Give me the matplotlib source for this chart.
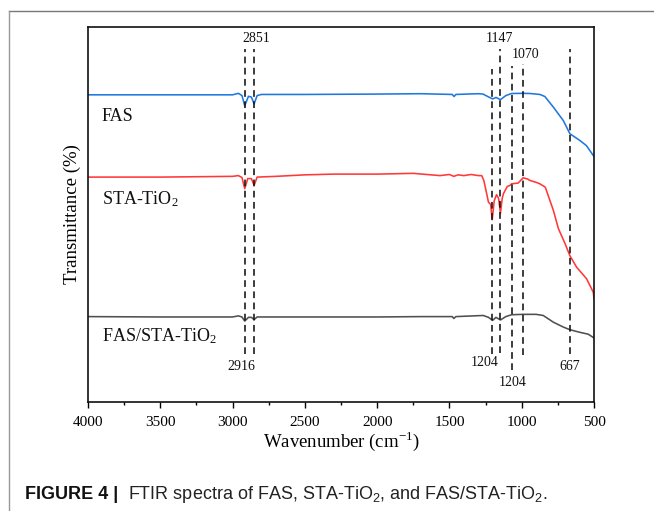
import matplotlib
matplotlib.use("Agg")
import matplotlib.pyplot as plt
from matplotlib.lines import Line2D
from matplotlib.ticker import MultipleLocator

# ---------------- data ----------------
fas_wn = [4000, 3500, 3000, 2960, 2935, 2916, 2890, 2870, 2851, 2830, 2800, 2500, 2000, 1700,
          1480, 1468, 1455, 1300, 1268, 1235, 1201, 1178, 1147, 1110, 1070, 992, 943, 874,
          840, 781, 712, 667, 598, 552, 500]
fas_t = [82.0, 82.0, 82.0, 82.4, 81.8, 79.1, 81.6, 81.4, 79.6, 81.8, 82.1, 82.1, 82.2, 82.3,
         82.1, 81.55, 82.1, 82.3, 82.2, 81.55, 80.9, 81.3, 80.7, 81.8, 82.35, 82.4, 82.35, 82.1,
         81.55, 78.7, 75.1, 71.6, 69.8, 68.4, 65.5]

sta_wn = [4000, 3500, 3000, 2960, 2935, 2916, 2895, 2870, 2851, 2830, 2700, 2500, 2300, 2000,
          1750, 1565, 1500, 1470, 1440, 1400, 1350, 1300, 1277, 1262, 1247, 1230, 1215, 1204,
          1190, 1174, 1160, 1147, 1135, 1126, 1100, 1082, 1070, 1025, 990, 960, 943, 900, 874,
          837, 781, 746, 700, 667, 620, 551, 505, 500]
sta_t = [60.0, 60.0, 60.2, 60.4, 59.9, 56.9, 59.6, 59.6, 57.8, 60.0, 60.2, 60.6, 60.8, 60.8,
         61.0, 60.4, 60.7, 60.2, 60.6, 60.4, 60.7, 60.4, 60.4, 59.1, 56.4, 53.3, 52.7, 48.6,
         53.7, 55.3, 54.3, 50.3, 54.3, 55.6, 57.5, 57.75, 58.2, 58.4, 59.8, 59.5, 59.1, 58.6, 58.2,
         57.3, 51.1, 46.2, 42.2, 39.0, 35.9, 32.8, 29.2, 27.5]

mix_wn = [4000, 3500, 3000, 2960, 2935, 2916, 2890, 2870, 2851, 2830, 2500, 2000, 1700, 1480,
          1470, 1455, 1266, 1230, 1201, 1178, 1147, 1110, 1070, 992, 900, 851, 781, 712, 667,
          598, 540, 500]
mix_t = [22.7, 22.6, 22.6, 22.9, 22.6, 21.5, 22.5, 22.5, 21.9, 22.6, 22.6, 22.6, 22.7, 22.7,
         22.2, 22.7, 23.0, 22.5, 21.7, 22.5, 21.8, 22.7, 23.2, 23.3, 23.3, 23.0, 21.2, 19.9, 19.2,
         18.5, 18.0, 17.0]

series_names = ["FAS", "STA-TiO$\\mathregular{_2}$", "FAS/STA-TiO$\\mathregular{_2}$"]
series_label_y = [75.1, 52.7, 16.2]

dash_wn = [2916, 2851, 1204, 1147, 1070, 992, 667]
dash_top = [94.25, 94.25, 88.96, 94.3, 89.8, 90.3, 94.3]
dash_bottom = [12.8, 12.8, 12.75, 12.9, 8.3, 12.3, 12.6]

annot_text = ["2851", "1147", "1070", "2916", "1204", "1204", "667"]
annot_wn = [2835, 1152, 974, 2937, 1254, 1060, 671]
annot_y = [97.06, 97.06, 92.8, 9.3, 10.4, 5.1, 9.3]

xticks = [4000, 3500, 3000, 2500, 2000, 1500, 1000, 500]

# ---------------- figure ----------------
W, H = 654, 511
fig = plt.figure(figsize=(W / 100, H / 100), dpi=100)
fig.patch.set_facecolor("white")

# outer frame (top and left edges)
fig.add_artist(Line2D([9.3 / W, 1.0], [1 - 10.7 / H, 1 - 10.7 / H], transform=fig.transFigure,
                      color="#777777", lw=1.0))
fig.add_artist(Line2D([9.3 / W, 9.3 / W], [0.0, 1 - 10.7 / H], transform=fig.transFigure,
                      color="#999999", lw=1.0))

ax = fig.add_axes([88 / W, 1 - 401.5 / H, (594 - 88) / W, (401.5 - 27.5) / H])
serif = "Liberation Serif"

ax.plot(fas_wn, fas_t, color="#1f78e0", lw=1.15)
ax.plot(sta_wn, sta_t, color="#ff3838", lw=1.15)
ax.plot(mix_wn, mix_t, color="#505050", lw=1.15)

for x, y0, y1 in zip(dash_wn, dash_bottom, dash_top):
    ax.plot([x, x], [y0, y1], color="#111111", lw=1.15, ls=(0, (4.2, 2.8)))

for name, y in zip(series_names, series_label_y):
    ax.text(3905, y, name, family=serif, fontsize=13, ha="left", va="baseline", color="#111111")

for t, x, y in zip(annot_text, annot_wn, annot_y):
    ax.text(x, y, t, family=serif, fontsize=10, ha="center", va="center", color="#111111")

ax.set_xlim(4000, 500)
ax.set_ylim(0, 100)
ax.set_xticks(xticks)
ax.set_xticklabels([str(v) for v in xticks], family=serif, fontsize=11)
ax.xaxis.set_minor_locator(MultipleLocator(250))
ax.tick_params(axis="x", which="major", direction="out", length=4.5, width=1.0, pad=6)
ax.tick_params(axis="x", which="minor", direction="out", length=2.5, width=1.0)
ax.set_yticks([])
for sp in ax.spines.values():
    sp.set_linewidth(1.2)
    sp.set_color("#111111")

ax.set_xlabel("Wavenumber (cm$^{\\mathregular{-1}}$)", family=serif, fontsize=13.5, labelpad=0)
ax.set_ylabel("Transmittance (%)", family=serif, fontsize=13.5, labelpad=5)

# caption
fig.text(25 / W, 1 - 499.3 / H, "FIGURE 4 |", family="Liberation Sans", weight="bold",
         fontsize=13, ha="left", va="baseline", color="#111111")
fig.text(128 / W, 1 - 499.3 / H,
         "FTIR spectra of FAS, STA-TiO$\\mathregular{_2}$, and FAS/STA-TiO$\\mathregular{_2}$.",
         family="Liberation Sans", fontsize=13, ha="left", va="baseline", color="#222222")

fig.savefig("out.png", dpi=100)
